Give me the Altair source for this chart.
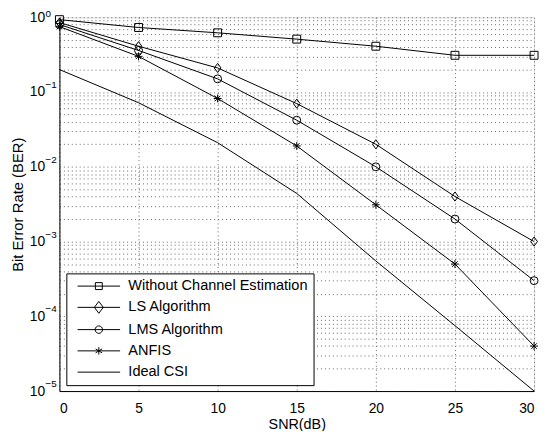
import altair as alt
import pandas as pd

snr = [0, 5, 10, 15, 20, 25, 30]
series_names = ["Without Channel Estimation", "LS Algorithm", "LMS Algorithm", "ANFIS", "Ideal CSI"]
without_est = [0.93, 0.73, 0.62, 0.51, 0.41, 0.31, 0.31]
ls_alg = [0.85, 0.41, 0.21, 0.07, 0.02, 0.004, 0.001]
lms_alg = [0.80, 0.36, 0.15, 0.042, 0.01, 0.002, 0.0003]
anfis = [0.75, 0.30, 0.082, 0.019, 0.0031, 0.0005, 0.00004]
ideal_csi = [0.20, 0.072, 0.021, 0.0044, 0.00055, 0.000075, 0.00001]

y_major = [1e-5, 1e-4, 1e-3, 1e-2, 1e-1, 1]
y_exponents = ["−5", "−4", "−3", "−2", "−1", "0"]
x_ticks = [0, 5, 10, 15, 20, 25, 30]

rows = []
for name, vals in zip(series_names, [without_est, ls_alg, lms_alg, anfis, ideal_csi]):
    for s, v in zip(snr, vals):
        rows.append({"snr": s, "ber": v, "series": name})
df = pd.DataFrame(rows)

exp_df = pd.DataFrame({"ber": y_major, "exp": y_exponents})

# minor tick values for log grid
y_values = []
for d in y_major[:-1]:
    for m in range(1, 10):
        y_values.append(float(f"{m * d:.10g}"))
y_values.append(1.0)

label_expr = " || ".join([f"datum.value == {v}" for v in y_major])
label_expr = f"({label_expr}) ? '10' : ''"

FONT = "Liberation Sans"
GRID = "#666"

x_enc = alt.X("snr:Q", scale=alt.Scale(domain=[0, 30], nice=False),
              axis=alt.Axis(values=x_ticks, title="SNR(dB)", grid=True,
                            gridDash=[1, 3], gridColor=GRID, tickSize=0,
                            labelPadding=11, titlePadding=2, labelFontSize=14,
                            titleFontSize=14.5, labelColor="black", titleColor="black",
                            domainColor="black", labelFont=FONT, titleFont=FONT,
                            titleFontWeight="normal"))
y_enc = alt.Y("ber:Q", scale=alt.Scale(type="log", domain=[1e-5, 1], nice=False),
              axis=alt.Axis(values=y_values, labelExpr=label_expr, labelOverlap=False,
                            title="Bit Error Rate (BER)", grid=True, gridDash=[1, 3],
                            gridColor=GRID, tickSize=0, labelPadding=15,
                            titlePadding=4, labelFontSize=14, titleFontSize=15,
                            labelColor="black", titleColor="black", domainColor="black",
                            labelFont=FONT, titleFont=FONT, titleFontWeight="normal"))

base = alt.Chart(df)

lines = base.mark_line(color="black", strokeWidth=1).encode(
    x=x_enc, y=y_enc, detail="series:N"
)

marker_series = series_names[:4]
diamond = "M0,-1.15L0.85,0L0,1.15L-0.85,0Z"
star = "M0,-1V1M-1,0H1M-0.7,-0.7L0.7,0.7M-0.7,0.7L0.7,-0.7"
points = base.transform_filter(
    alt.FieldOneOfPredicate(field="series", oneOf=marker_series)
).mark_point(filled=False, color="black", strokeWidth=1, size=64, opacity=1).encode(
    x="snr:Q", y="ber:Q",
    shape=alt.Shape("series:N", scale=alt.Scale(domain=marker_series,
                    range=["square", diamond, "circle", star]), legend=None),
)

leg_paths = [
    "M-4.3,0H4.3M-0.7,-0.7H0.7V0.7H-0.7Z",
    "M-4.3,0H4.3M0,-1.2L0.9,0L0,1.2L-0.9,0Z",
    "M-4.3,0H4.3M0.75,0A0.75,0.75 0 1,1 -0.75,0A0.75,0.75 0 1,1 0.75,0",
    "M-4.3,0H4.3M0,-0.75V0.75M-0.65,-0.4L0.65,0.4M-0.65,0.4L0.65,-0.4",
    "M-4.3,0H4.3",
]
legend_layer = base.mark_point(filled=False, color="black", strokeWidth=1, opacity=0).encode(
    x="snr:Q", y="ber:Q",
    shape=alt.Shape("series:N", scale=alt.Scale(domain=series_names, range=leg_paths),
                    sort=series_names,
                    legend=alt.Legend(title=None, orient="none", legendX=7, legendY=259,
                                      padding=5.5, strokeColor="black", fillColor="white",
                                      symbolSize=100, symbolOffset=20, symbolStrokeColor="black",
                                      symbolStrokeWidth=1, symbolFillColor="transparent",
                                      symbolOpacity=1, labelFontSize=14.7, labelFont=FONT,
                                      labelColor="black", labelOffset=22.5, rowPadding=5.5,
                                      labelLimit=400, cornerRadius=0)),
)

exp_base = alt.Chart(exp_df)
exponents = exp_base.transform_filter("datum.ber < 0.5").mark_text(
    align="left", baseline="middle", fontSize=10, font=FONT, color="black", dx=-14, dy=-7
).encode(x=alt.value(0), y=alt.Y("ber:Q"), text="exp:N")
exponent_top = exp_base.transform_filter("datum.ber >= 0.5").mark_text(
    align="left", baseline="middle", fontSize=10, font=FONT, color="black", dx=-14, dy=-3
).encode(x=alt.value(0), y=alt.Y("ber:Q"), text="exp:N")

chart = alt.layer(lines, points, legend_layer, exponents, exponent_top).resolve_scale(
    shape="independent"
).properties(
    width=480, height=378,
    autosize=alt.AutoSizeParams(type="none"),
    padding={"left": 52, "top": 7, "right": 6, "bottom": 38},
).configure_view(stroke="black", strokeWidth=1).configure(background="white")

chart.save("out.html", embed_options={"renderer": "svg", "actions": False})
